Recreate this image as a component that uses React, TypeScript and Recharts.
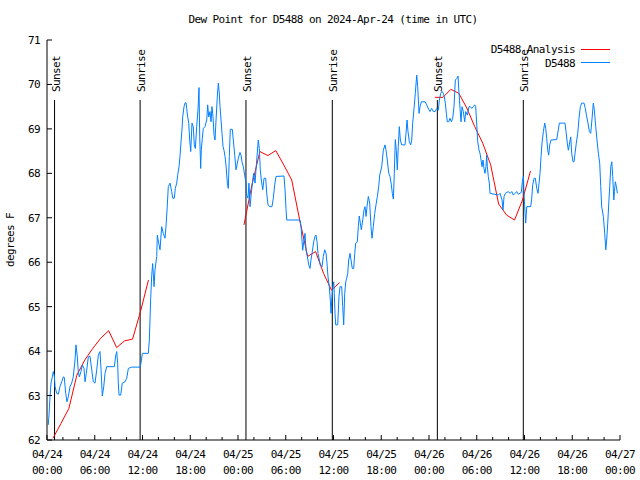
import React from 'react';
import { LineChart, Line, XAxis, YAxis, ReferenceLine } from 'recharts';

const FONT = '"DejaVu Sans Mono", monospace';

const xTicks = [0, 2, 4, 6, 8, 10, 12, 14, 16, 18, 20, 22, 24, 26, 28, 30, 32, 34, 36, 38, 40, 42, 44, 46, 48, 50, 52, 54, 56, 58, 60, 62, 64, 66, 68, 70, 72];
const yTicks = [62, 63, 64, 65, 66, 67, 68, 69, 70, 71];
const startDay = 24;
const seriesNames = ['D5488 Analysis', 'D5488'];
const seriesColors = ['#ff0000', '#0080ff'];

const sunsetHours = [0.95, 25.0, 49.05];
const sunriseHours = [11.7, 35.85, 59.85];

// hourly analysis, null breaks the line between the 12h runs
const analysisHours = [
  0.75, 1.75, 2.75, 3.75, 4.75, 5.75, 6.75, 7.75, 8.75, 9.75, 10.75, 11.75, 12.75,
  18,
  24.75, 25.75, 26.75, 27.75, 28.75, 29.75, 30.75, 31.75, 32.75, 33.75, 34.75, 35.75, 36.75,
  42,
  48.75, 49.75, 50.75, 51.75, 52.75, 53.75, 54.75, 55.75, 56.75, 57.75, 58.75, 59.75, 60.75,
];
const analysisDewPoint = [
  62.04, 62.37, 62.71, 63.46, 63.8, 64.06, 64.29, 64.46, 64.08, 64.23, 64.27, 64.89, 65.6,
  null,
  66.84, 67.74, 68.49, 68.4, 68.51, 68.19, 67.85, 66.95, 66.13, 66.24, 65.75, 65.37, 65.54,
  null,
  69.71, 69.71, 69.89, 69.8, 69.47, 69.05, 68.68, 68.19, 67.31, 67.06, 66.95, 67.4, 68.05,
];

const stationHours = [
  0.16, 0.25, 0.38, 0.5, 0.67, 0.79, 0.92, 1.01, 1.22, 1.42, 1.63, 1.85, 2.05, 2.17, 2.35, 2.51, 2.68, 2.89,
  3.1, 3.3, 3.52, 3.64, 3.81, 3.93, 4.06, 4.27, 4.44, 4.65, 4.78, 4.94, 5.19, 5.4, 5.62, 5.82, 6.03, 6.25,
  6.45, 6.66, 6.79, 6.95, 7.13, 7.29, 7.5, 8.46, 8.63, 8.76, 8.88, 8.96, 9.05, 9.26, 9.46, 9.8, 10.02, 10.22,
  10.64, 11.69, 11.81, 11.98, 12.73, 12.86, 13.03, 13.16, 13.28, 13.45, 13.57, 13.79, 13.86, 14.04, 14.2, 14.41,
  14.61, 14.83, 14.95, 15.12, 15.24, 15.46, 15.67, 15.8, 16.0, 16.12, 16.3, 16.42, 16.59, 16.71, 16.84, 16.96,
  17.05, 17.22, 17.34, 17.47, 17.55, 17.68, 17.81, 17.93, 18.06, 18.22, 18.38, 18.51, 18.64, 18.81, 18.98, 19.1,
  19.19, 19.31, 19.39, 19.52, 19.64, 19.85, 20.07, 20.19, 20.32, 20.48, 20.61, 20.73, 20.86, 20.99, 21.11, 21.24,
  21.4, 21.53, 21.65, 21.74, 21.87, 21.99, 22.12, 22.24, 22.37, 22.49, 22.66, 22.78, 22.91, 23.03, 23.29, 23.41,
  23.59, 23.75, 23.88, 24.04, 24.25, 24.38, 24.5, 24.67, 24.84, 25.01, 25.09, 25.26, 25.38, 25.51, 25.67, 25.85,
  25.97, 26.14, 26.26, 26.39, 26.55, 26.68, 26.8, 26.93, 27.11, 27.27, 27.48, 27.61, 27.77, 28.02, 28.27, 28.44,
  28.61, 28.78, 29.78, 29.91, 30.03, 30.12, 31.79, 31.92, 32.04, 32.13, 32.26, 32.42, 32.55, 32.71, 32.89, 33.05,
  33.17, 33.34, 33.51, 33.68, 33.8, 33.93, 34.05, 34.18, 34.34, 34.56, 34.72, 34.9, 35.06, 35.18, 35.31, 35.47,
  35.6, 35.69, 35.78, 35.9, 36.03, 36.1, 36.19, 36.28, 36.53, 36.69, 36.82, 37.03, 37.16, 37.28, 37.41, 37.54,
  37.66, 37.79, 37.91, 38.08, 38.2, 38.36, 38.54, 38.67, 38.79, 38.99, 39.12, 39.24, 39.37, 39.5, 39.67, 39.84,
  39.96, 40.09, 40.21, 40.38, 40.55, 40.71, 40.84, 41.0, 41.18, 41.34, 41.51, 41.68, 41.81, 42.06, 42.26, 42.47,
  42.6, 42.76, 42.94, 43.1, 43.27, 43.39, 43.52, 43.64, 43.77, 43.89, 44.02, 44.14, 44.27, 44.4, 44.57, 44.99,
  45.11, 45.24, 45.36, 45.53, 45.7, 45.83, 45.95, 46.12, 46.28, 46.46, 46.58, 46.75, 46.87, 47.04, 47.5, 47.71,
  47.96, 48.13, 48.34, 48.54, 48.76, 48.97, 49.17, 49.3, 49.47, 49.64, 49.8, 49.93, 50.05, 50.18, 50.3, 50.48,
  50.64, 50.81, 50.98, 51.14, 51.31, 51.52, 51.65, 51.77, 51.9, 52.02, 52.15, 52.31, 52.49, 52.61, 52.82, 53.03,
  53.19, 53.37, 53.57, 53.75, 53.87, 54.0, 54.12, 54.29, 54.41, 54.54, 54.66, 54.79, 54.91, 55.04, 55.16, 55.25,
  55.33, 55.45, 55.58, 55.67, 56.71, 56.92, 57.18, 57.3, 57.43, 57.59, 57.97, 58.18, 58.4, 58.6, 58.81, 59.02,
  59.22, 59.6, 59.73, 59.86, 59.94, 60.07, 60.15, 60.28, 60.78, 60.91, 61.03, 61.2, 61.36, 61.54, 61.7, 61.83,
  61.95, 62.08, 62.2, 62.37, 62.54, 62.67, 62.79, 62.92, 63.04, 63.17, 63.33, 64.05, 64.25, 64.38, 65.09, 65.22,
  65.38, 65.51, 65.63, 65.81, 65.93, 66.1, 66.22, 66.35, 66.51, 66.69, 66.85, 67.02, 67.19, 67.48, 67.64, 67.82,
  67.98, 68.15, 68.32, 68.49, 68.65, 68.78, 68.95, 69.11, 69.28, 69.45, 69.58, 69.7, 69.91, 70.08, 70.21, 70.33,
  70.46, 70.59, 70.71, 70.84, 70.97, 71.09, 71.22, 71.3, 71.42, 71.55, 71.67,
];
const stationDewPoint = [
  62.34, 62.56, 62.97, 63.28, 63.42, 63.54, 63.44, 63.2, 63.05, 63.03, 63.2, 63.31, 63.42, 63.41, 63.05, 62.86, 62.97, 63.2,
  63.28, 63.42, 63.8, 64.14, 63.87, 63.54, 63.42, 63.54, 63.69, 63.61, 63.31, 63.5, 63.87, 63.89, 63.58, 63.31, 63.28, 63.58,
  63.91, 63.99, 63.58, 62.99, 63.2, 63.5, 63.65, 63.65, 63.89, 63.99, 63.73, 63.28, 63.01, 63.01, 63.28, 63.31, 63.39, 63.61,
  63.64, 63.64, 63.73, 63.95, 63.95, 64.25, 65.19, 65.71, 65.97, 65.45, 65.83, 66.13, 66.61, 66.43, 66.28, 66.8,
  66.65, 66.54, 66.8, 67.29, 67.7, 67.78, 67.59, 67.44, 67.44, 67.66, 67.78, 67.96, 68.15, 68.38, 68.71, 68.98,
  69.27, 69.5, 69.58, 69.59, 69.46, 69.27, 69.13, 68.75, 68.49, 69.13, 69.05, 68.64, 68.56, 69.05, 69.46, 69.93,
  68.82, 68.11, 68.53, 68.79, 69.01, 69.05, 69.2, 69.54, 69.27, 69.39, 69.16, 69.5, 69.27, 68.86, 68.75, 69.2,
  69.72, 70.03, 69.8, 69.5, 69.2, 68.9, 68.6, 68.52, 68.38, 68.19, 67.78, 67.66, 68.38, 68.99, 68.99, 68.75,
  68.41, 68.08, 68.19, 68.34, 68.47, 68.41, 68.26, 68.15, 67.96, 67.78, 67.51, 67.44, 67.78, 67.25, 67.55, 67.85,
  68.0, 67.78, 68.08, 68.38, 68.75, 68.56, 68.08, 67.85, 67.63, 67.89, 67.89, 67.55, 67.29, 67.25, 67.25, 67.44,
  67.74, 67.93, 67.94, 67.63, 67.21, 66.95, 66.95, 66.8, 66.5, 66.27, 66.46, 66.65, 66.27, 66.13, 65.94, 65.86,
  66.05, 66.24, 66.46, 66.58, 66.61, 66.46, 66.2, 66.09, 65.94, 65.9, 66.13, 66.28, 66.2, 65.98, 65.67, 65.45,
  65.15, 64.85, 65.15, 65.41, 65.56, 65.3, 64.85, 64.59, 64.59, 65.23, 65.45, 65.45, 65.0, 64.59, 65.3, 65.56,
  65.64, 65.75, 66.05, 66.2, 66.05, 65.86, 65.86, 66.2, 66.43, 66.46, 66.8, 67.04, 66.88, 66.73, 66.95, 67.18,
  67.25, 67.03, 67.25, 67.48, 67.33, 66.8, 66.54, 66.8, 67.1, 67.29, 67.48, 67.7, 67.96, 68.15, 68.52, 68.64,
  68.52, 68.3, 68.0, 67.93, 67.74, 67.55, 67.42, 68.0, 68.76, 68.52, 68.08, 68.6, 69.05, 68.75, 68.64, 68.64,
  68.9, 69.2, 68.94, 68.71, 68.64, 68.75, 69.13, 69.46, 69.8, 70.21, 69.95, 69.35, 69.5, 69.61, 69.61, 69.54,
  69.44, 69.39, 69.46, 69.39, 69.39, 69.46, 69.42, 69.65, 69.8, 69.84, 69.8, 69.72, 69.58, 69.35, 69.16, 69.16,
  69.24, 69.16, 69.24, 69.5, 70.1, 70.14, 70.19, 69.8, 69.46, 69.16, 69.5, 69.39, 69.16, 69.39, 69.31, 69.5,
  69.5, 69.46, 69.5, 69.54, 69.5, 69.09, 68.71, 68.52, 68.45, 68.3, 68.15, 68.3, 68.11, 68.0, 68.15, 68.41,
  68.15, 67.93, 67.78, 67.55, 67.51, 67.55, 67.4, 67.18, 67.48, 67.55, 67.59, 67.55, 67.59, 67.51, 67.55, 67.59,
  67.53, 67.57, 67.81, 67.93, 67.55, 67.1, 66.88, 67.25, 67.25, 67.44, 67.74, 67.89, 67.89, 67.66, 67.55, 67.78,
  68.0, 68.38, 68.68, 68.94, 69.13, 69.01, 68.79, 68.52, 68.41, 68.64, 68.75, 68.76, 68.98, 69.13, 69.13, 68.94,
  68.68, 68.52, 68.64, 68.82, 68.45, 68.26, 68.26, 68.45, 68.68, 68.9, 69.24, 69.5, 69.58, 69.58, 69.46, 69.27,
  69.13, 68.94, 68.9, 69.24, 69.58, 69.42, 69.05, 68.75, 68.45, 68.23, 67.7, 67.25, 67.03, 66.65, 66.28, 66.5,
  66.88, 67.33, 67.7, 68.15, 68.26, 67.93, 67.4, 67.59, 67.81, 67.7, 67.55,
];

const analysisData = analysisHours.map((h, i) => ({ h, dew: analysisDewPoint[i] }));
const stationData = stationHours.map((h, i) => ({ h, dew: stationDewPoint[i] }));

const pad = (n: number) => (n < 10 ? '0' + n : '' + n);

const XTick = (props: any) => {
  const { x, y, payload, top } = props;
  const v = payload.value;
  const major = v % 6 === 0;
  const len = major ? 5 : 3;
  const day = startDay + Math.floor(v / 24);
  const hour = v % 24;
  return (
    <g>
      <line x1={x} x2={x} y1={y} y2={top ? y + len : y - len} stroke="#000" />
      {!top && major && (
        <text x={x} y={y} textAnchor="middle" fontFamily={FONT} fontSize={11} letterSpacing={-0.6} fill="#000">
          <tspan x={x} dy={18}>{'04/' + pad(day)}</tspan>
          <tspan x={x} dy={16}>{pad(hour) + ':00'}</tspan>
        </text>
      )}
    </g>
  );
};

const YTick = (props: any) => {
  const { x, y, payload, right } = props;
  return (
    <g>
      <line x1={x} x2={right ? x - 5 : x + 5} y1={y} y2={y} stroke="#000" />
      {!right && (
        <text x={x - 7} y={y + 4} textAnchor="end" fontFamily={FONT} fontSize={11} letterSpacing={-0.6} fill="#000">
          {payload.value}
        </text>
      )}
    </g>
  );
};

const sunLabel = (text: string) => (props: any) => {
  const vb = props.viewBox || {};
  const x = vb.x + 5;
  const y = vb.y - 8;
  return (
    <text x={x} y={y} transform={`rotate(-90 ${x} ${y})`} fontFamily={FONT} fontSize={11} letterSpacing={-0.6} fill="#000">
      {text}
    </text>
  );
};

export default function App() {
  return (
    <div style={{ position: 'absolute', left: 0, top: 0, width: 640, height: 480, background: '#fff' }}>
      <LineChart width={640} height={480} margin={{ top: 40, right: 20, bottom: 0, left: 0 }}>
        <XAxis
          type="number"
          dataKey="h"
          domain={[0, 72]}
          ticks={xTicks}
          interval={0}
          height={40}
          allowDataOverflow
          tickLine={false}
          tickSize={0}
          tickMargin={0}
          tick={<XTick />}
          axisLine={{ stroke: '#000' }}
        />
        <XAxis
          xAxisId="top"
          orientation="top"
          type="number"
          dataKey="h"
          domain={[0, 72]}
          ticks={xTicks}
          interval={0}
          height={0}
          allowDataOverflow
          tickLine={false}
          tickSize={0}
          tickMargin={0}
          tick={<XTick top />}
          axisLine={{ stroke: '#000' }}
        />
        <YAxis
          type="number"
          domain={[62, 71]}
          ticks={yTicks}
          interval={0}
          width={47}
          allowDataOverflow
          tickLine={false}
          tickSize={0}
          tickMargin={0}
          tick={<YTick />}
          axisLine={{ stroke: '#000' }}
        />
        <YAxis
          yAxisId="r"
          orientation="right"
          type="number"
          domain={[62, 71]}
          ticks={yTicks}
          interval={0}
          width={0}
          allowDataOverflow
          tickLine={false}
          tickSize={0}
          tickMargin={0}
          tick={<YTick right />}
          axisLine={{ stroke: '#000' }}
        />
        {sunsetHours.map((h) => (
          <ReferenceLine
            key={'ss' + h}
            segment={[{ x: h, y: 62 }, { x: h, y: 69.65 }]}
            stroke="#000"
            label={{ content: sunLabel('Sunset') }}
          />
        ))}
        {sunriseHours.map((h) => (
          <ReferenceLine
            key={'sr' + h}
            segment={[{ x: h, y: 62 }, { x: h, y: 69.65 }]}
            stroke="#000"
            label={{ content: sunLabel('Sunrise') }}
          />
        ))}
        <Line
          data={analysisData}
          dataKey="dew"
          name={seriesNames[0]}
          type="linear"
          stroke={seriesColors[0]}
          strokeWidth={1}
          dot={false}
          isAnimationActive={false}
        />
        <Line
          data={stationData}
          dataKey="dew"
          name={seriesNames[1]}
          type="linear"
          stroke={seriesColors[1]}
          strokeWidth={1}
          dot={false}
          isAnimationActive={false}
        />
      </LineChart>
      <svg width={640} height={480} style={{ position: 'absolute', left: 0, top: 0, pointerEvents: 'none' }}>
        <text x={333} y={23} textAnchor="middle" fontFamily={FONT} fontSize={11} letterSpacing={-0.6} fill="#000">
          Dew Point for D5488 on 2024-Apr-24 (time in UTC)
        </text>
        <text x={14} y={240} transform="rotate(-90 14 240)" textAnchor="middle" fontFamily={FONT} fontSize={11} letterSpacing={-0.6} fill="#000">
          degrees F
        </text>
        {/* key, in plot order */}
        {seriesNames.map((name, i) => (
          <g key={name}>
            <text x={575} y={53 + i * 14} textAnchor="end" fontFamily={FONT} fontSize={11} letterSpacing={-0.6} fill="#000">
              {name}
            </text>
            <rect x={581} y={49 + i * 13} width={29} height={1} fill={seriesColors[i]} />
          </g>
        ))}
      </svg>
    </div>
  );
}
